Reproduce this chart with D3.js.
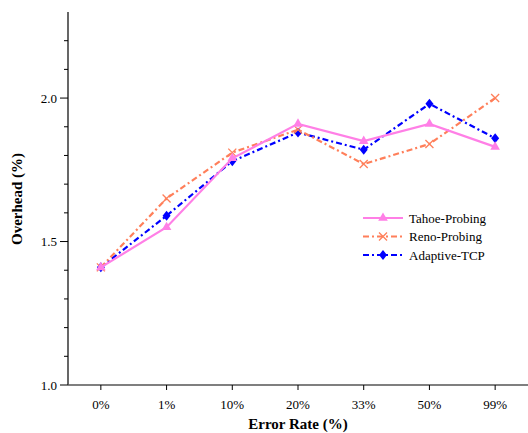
<!DOCTYPE html>
<html><head><meta charset="utf-8">
<script src="https://cdn.jsdelivr.net/npm/d3@7"></script>
<style>body{margin:0;background:#fff}svg{display:block}</style>
</head><body>
<svg id="c" width="528" height="433"></svg>
<script>
const categories = ["0%","1%","10%","20%","33%","50%","99%"];
const tahoe    = [1.41, 1.55, 1.79, 1.91, 1.85, 1.91, 1.83];
const reno     = [1.41, 1.65, 1.81, 1.89, 1.77, 1.84, 2.00];
const adaptive = [1.41, 1.59, 1.78, 1.88, 1.82, 1.98, 1.86];
const yTicks = [1.0, 1.5, 2.0];
const seriesNames = ["Tahoe-Probing","Reno-Probing","Adaptive-TCP"];

const svg = d3.select("#c");
const font = "'Liberation Serif', 'Times New Roman', serif";
const x = d3.scaleBand().domain(categories).range([68, 528]);
const y = d3.scaleLinear().domain([1.0, 2.3]).range([385, 12]);
const cx = d => x(d) + x.bandwidth()/2;

// axes
const gy = svg.append("g").attr("transform","translate(68,0)");
gy.append("line").attr("x1",0).attr("x2",0).attr("y1",y(2.3)).attr("y2",y(1.0)).attr("stroke","#000").attr("stroke-width",1.2);
const minor = d3.range(10, 23).map(v => v/10);
gy.selectAll("line.t").data(minor).join("line").attr("class","t")
  .attr("x1", d => Math.abs(d*2 - Math.round(d*2))<1e-6 ? -8 : -4).attr("x2",0)
  .attr("y1", d=>y(d)).attr("y2", d=>y(d)).attr("stroke","#000").attr("stroke-width",1);
gy.selectAll("text").data(yTicks).join("text")
  .attr("x",-11).attr("y",d=>y(d)+4.5).attr("text-anchor","end")
  .attr("font-family",font).attr("font-size",13).text(d=>d.toFixed(1));

const gx = svg.append("g");
gx.append("line").attr("x1",68).attr("x2",528).attr("y1",385).attr("y2",385).attr("stroke","#555").attr("stroke-width",1.5);
gx.selectAll("line.t").data(categories).join("line").attr("class","t")
  .attr("x1",d=>cx(d)).attr("x2",d=>cx(d)).attr("y1",385).attr("y2",390).attr("stroke","#000");
gx.selectAll("text").data(categories).join("text")
  .attr("x",d=>cx(d)).attr("y",409).attr("text-anchor","middle")
  .attr("font-family",font).attr("font-size",13).text(d=>d);

svg.append("text").attr("x",298).attr("y",429).attr("text-anchor","middle")
  .attr("font-family",font).attr("font-size",15).attr("font-weight","bold").text("Error Rate (%)");
svg.append("text").attr("transform","translate(22,199) rotate(-90)").attr("text-anchor","middle")
  .attr("font-family",font).attr("font-size",15).attr("font-weight","bold").text("Overhead (%)");

const series = [
  {name:seriesNames[2], vals:adaptive, color:"#0000ff", dash:"6,3,2,3", marker:"diamond"},
  {name:seriesNames[1], vals:reno, color:"#ff7f5a", dash:"6,3,2,3", marker:"x"},
  {name:seriesNames[0], vals:tahoe, color:"#ff7fe6", dash:null, marker:"tri"},
];
const line = d3.line().x((d,i)=>cx(categories[i])).y(d=>y(d));

function marker(g, type, color, px, py){
  if(type==="tri"){
    g.append("path").attr("d", d3.symbol(d3.symbolTriangle, 40)()).attr("transform",`translate(${px},${py})`).attr("fill",color);
  } else if(type==="diamond"){
    g.append("path").attr("d", `M0,-5L4,0L0,5L-4,0Z`).attr("transform",`translate(${px},${py})`).attr("fill",color);
  } else {
    g.append("path").attr("d","M-4,-4L4,4M-4,4L4,-4").attr("transform",`translate(${px},${py})`).attr("stroke",color).attr("stroke-width",1.3).attr("fill","none");
  }
}

series.forEach(s=>{
  const g = svg.append("g");
  g.append("path").datum(s.vals).attr("d",line).attr("fill","none").attr("stroke",s.color)
    .attr("stroke-width",2.2).attr("stroke-dasharray",s.dash);
  s.vals.forEach((v,i)=>marker(g, s.marker, s.color, cx(categories[i]), y(v)));
});

// legend
const legend = svg.append("g");
const legendItems = [series[2], series[1], series[0]];
legendItems.forEach((s,i)=>{
  const ly = 218 + i*18.5;
  legend.append("line").attr("x1",363).attr("x2",403).attr("y1",ly).attr("y2",ly)
    .attr("stroke",s.color).attr("stroke-width",2.2).attr("stroke-dasharray",s.dash);
  marker(legend, s.marker, s.color, 383, ly);
  legend.append("text").attr("x",409).attr("y",ly+4.5).attr("font-family",font).attr("font-size",13).text(s.name);
});
</script>
</body></html>
